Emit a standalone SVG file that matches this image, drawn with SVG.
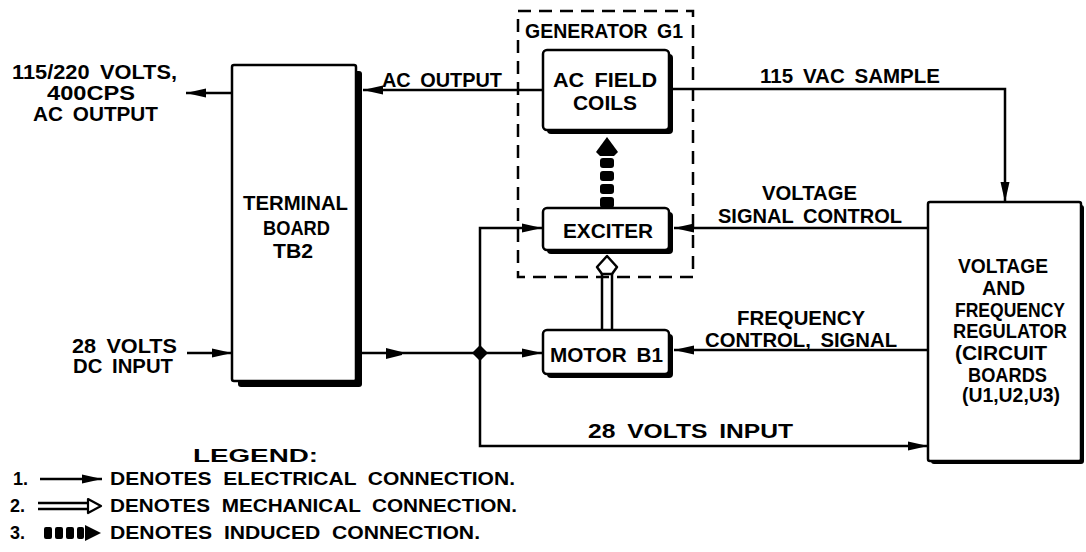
<svg xmlns="http://www.w3.org/2000/svg" width="1086" height="552" viewBox="0 0 1086 552">
<style>
text{font-family:"Liberation Sans",Arial,sans-serif;font-weight:bold;font-size:20px;fill:#000;word-spacing:4px}
.lg{font-size:18px;word-spacing:5px}
.box{fill:#fff;stroke:#000;stroke-width:2.5}
.sh{fill:#000}
.ln{fill:none;stroke:#000;stroke-width:2.5}
.dash{fill:none;stroke:#000;stroke-width:2.5;stroke-dasharray:13 8}
</style>
<defs>
<marker id="ah" markerUnits="userSpaceOnUse" markerWidth="20" markerHeight="11" refX="20" refY="5.5" orient="auto">
<path d="M0,1 L20,5.5 L0,10 Z" fill="#000"/>
</marker>
</defs>
<rect width="1086" height="552" fill="#fff"/>

<g id="outside-labels">
<text x="12" y="79" textLength="165" lengthAdjust="spacingAndGlyphs">115/220 VOLTS,</text>
<text x="47" y="100" textLength="88" lengthAdjust="spacingAndGlyphs">400CPS</text>
<text x="33" y="121" textLength="125" lengthAdjust="spacingAndGlyphs">AC OUTPUT</text>
<text x="72" y="353" textLength="105" lengthAdjust="spacingAndGlyphs">28 VOLTS</text>
<text x="73" y="373" textLength="100" lengthAdjust="spacingAndGlyphs">DC INPUT</text>
</g>

<g id="tb2">
<rect class="sh" x="238" y="71" width="124" height="316" rx="3"/>
<rect class="box" x="232" y="65" width="124" height="316" rx="2"/>
<text x="243" y="210" textLength="105" lengthAdjust="spacingAndGlyphs">TERMINAL</text>
<text x="263" y="235" textLength="67" lengthAdjust="spacingAndGlyphs">BOARD</text>
<text x="273" y="258" textLength="40" lengthAdjust="spacingAndGlyphs">TB2</text>
</g>

<g id="generator">
<rect class="dash" x="518" y="11" width="175" height="266"/>
<text x="525" y="38" textLength="158" lengthAdjust="spacingAndGlyphs" font-size="19">GENERATOR G1</text>
</g>

<g id="ac-field-coils">
<rect class="sh" x="547" y="54" width="126" height="80" rx="4"/>
<rect class="box" x="543" y="50" width="126" height="80" rx="4"/>
<text x="553" y="87" textLength="104" lengthAdjust="spacingAndGlyphs">AC FIELD</text>
<text x="573" y="110" textLength="64" lengthAdjust="spacingAndGlyphs">COILS</text>
</g>

<g id="exciter">
<rect class="sh" x="547" y="212" width="126" height="42" rx="4"/>
<rect class="box" x="543" y="208" width="126" height="42" rx="4"/>
<text x="563" y="238" textLength="90" lengthAdjust="spacingAndGlyphs">EXCITER</text>
</g>

<g id="motor-b1">
<rect class="sh" x="547" y="334" width="126" height="44" rx="4"/>
<rect class="box" x="543" y="330" width="126" height="44" rx="4"/>
<text x="550" y="362" textLength="113" lengthAdjust="spacingAndGlyphs">MOTOR B1</text>
</g>

<g id="regulator">
<rect class="sh" x="931" y="205" width="153" height="259" rx="3"/>
<rect class="box" x="928" y="202" width="153" height="259" rx="2"/>
<text x="958" y="273" textLength="90" lengthAdjust="spacingAndGlyphs">VOLTAGE</text>
<text x="982" y="295" textLength="43" lengthAdjust="spacingAndGlyphs">AND</text>
<text x="955" y="317" textLength="110" lengthAdjust="spacingAndGlyphs">FREQUENCY</text>
<text x="953" y="338" textLength="114" lengthAdjust="spacingAndGlyphs">REGULATOR</text>
<text x="955" y="360" textLength="92" lengthAdjust="spacingAndGlyphs">(CIRCUIT</text>
<text x="968" y="382" textLength="79" lengthAdjust="spacingAndGlyphs">BOARDS</text>
<text x="962" y="402" textLength="98" lengthAdjust="spacingAndGlyphs">(U1,U2,U3)</text>
</g>

<g id="connectors">
<path class="ln" d="M232,93 H186" marker-end="url(#ah)"/>
<path class="ln" d="M187,353 H232" marker-end="url(#ah)"/>
<path class="ln" d="M362,353 H542" marker-end="url(#ah)"/>
<polygon points="386,348 402,352 402,355 386,359" fill="#000"/>
<path class="ln" d="M480,353 V228 H542" marker-end="url(#ah)"/>
<path class="ln" d="M480,353 V446 H928" marker-end="url(#ah)"/>
<polygon points="480,345 488,353 480,361 472,353" fill="#000"/>
<path class="ln" d="M543,90 H363" marker-end="url(#ah)"/>
<path class="ln" d="M673,89 H1005 V202" marker-end="url(#ah)"/>
<path class="ln" d="M928,228 H674" marker-end="url(#ah)"/>
<path class="ln" d="M928,350 H674" marker-end="url(#ah)"/>
<g id="mechanical">
<line class="ln" x1="602" y1="330" x2="602" y2="273"/>
<line class="ln" x1="612" y1="330" x2="612" y2="273"/>
<polygon points="607,256 617,267 612,274 602,274 597,267" fill="#fff" stroke="#000" stroke-width="2.5" stroke-linejoin="round"/>
</g>
<g id="induced" fill="#000">
<polygon points="607,137 618,152 614,156 600,156 596,152"/>
<rect x="600" y="158" width="14" height="10" rx="3"/>
<rect x="600" y="171" width="14" height="10" rx="3"/>
<rect x="600" y="184" width="14" height="10" rx="3"/>
<rect x="600" y="197" width="14" height="11" rx="3"/>
</g>
<text x="382" y="87" textLength="120" lengthAdjust="spacingAndGlyphs">AC OUTPUT</text>
<text x="760" y="83" textLength="180" lengthAdjust="spacingAndGlyphs">115 VAC SAMPLE</text>
<text x="762" y="200" textLength="95" lengthAdjust="spacingAndGlyphs">VOLTAGE</text>
<text x="718" y="223" textLength="184" lengthAdjust="spacingAndGlyphs">SIGNAL CONTROL</text>
<text x="737" y="325" textLength="128" lengthAdjust="spacingAndGlyphs">FREQUENCY</text>
<text x="705" y="347" textLength="192" lengthAdjust="spacingAndGlyphs">CONTROL, SIGNAL</text>
<text x="588" y="438" textLength="205" lengthAdjust="spacingAndGlyphs">28 VOLTS INPUT</text>
</g>

<g id="legend">
<text class="lg" x="193" y="462" textLength="125" lengthAdjust="spacingAndGlyphs" font-size="19">LEGEND:</text>
<text class="lg" x="13" y="485">1.</text>
<path class="ln" d="M40,479 H102" marker-end="url(#ah)"/>
<text class="lg" x="110" y="485" textLength="405" lengthAdjust="spacingAndGlyphs">DENOTES ELECTRICAL CONNECTION.</text>
<text class="lg" x="10" y="512">2.</text>
<line class="ln" x1="38" y1="503" x2="90" y2="503" stroke-width="2"/>
<line class="ln" x1="38" y1="509" x2="90" y2="509" stroke-width="2"/>
<polygon points="88,499 101,506 88,513" fill="#fff" stroke="#000" stroke-width="2.2" stroke-linejoin="round"/>
<text class="lg" x="110" y="512" textLength="407" lengthAdjust="spacingAndGlyphs">DENOTES MECHANICAL CONNECTION.</text>
<text class="lg" x="10" y="539">3.</text>
<g fill="#000">
<rect x="44" y="527" width="8" height="12" rx="2"/>
<rect x="55" y="527" width="8" height="12" rx="2"/>
<rect x="66" y="527" width="8" height="12" rx="2"/>
<rect x="77" y="527" width="7" height="12" rx="2"/>
<polygon points="85,525 101,533 85,541"/>
</g>
<text class="lg" x="110" y="539" textLength="370" lengthAdjust="spacingAndGlyphs">DENOTES INDUCED CONNECTION.</text>
</g>
</svg>
